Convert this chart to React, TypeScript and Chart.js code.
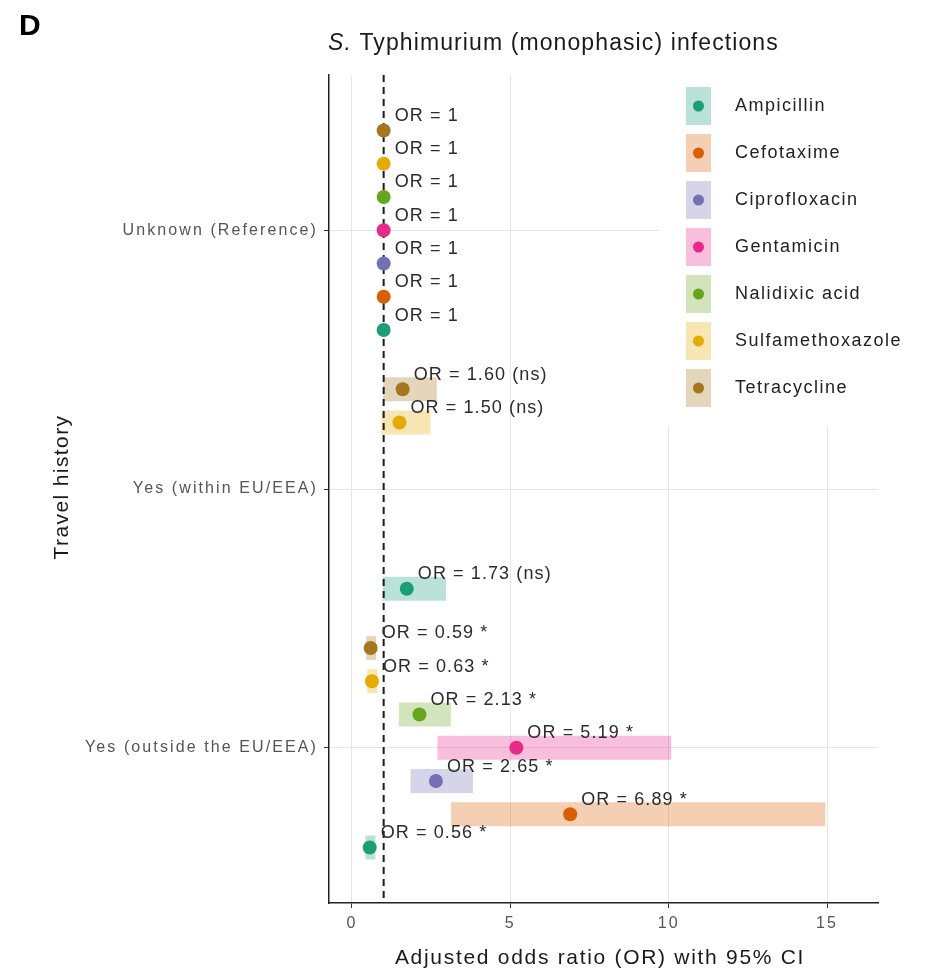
import React, { useEffect, useRef } from 'react';
import { Chart, registerables } from 'chart.js';

Chart.register(...registerables);

// Travel-history categories (y axis, top to bottom)
const TRAVEL_GROUPS = ['Unknown (Reference)', 'Yes (within EU/EEA)', 'Yes (outside the EU/EEA)'];

// Antimicrobials, legend order
const DRUGS = ['Ampicillin', 'Cefotaxime', 'Ciprofloxacin', 'Gentamicin', 'Nalidixic acid', 'Sulfamethoxazole', 'Tetracycline'];
const DRUG_COLORS = ['#1B9E77', '#D95F02', '#7570B3', '#E7298A', '#66A61E', '#E6AB02', '#A6761D'];

// Adjusted odds ratios per travel group, in DRUGS order (null = not estimated)
const OR_UNKNOWN = [1, 1, 1, 1, 1, 1, 1];
const OR_WITHIN_EU = [1.73, null, null, null, null, 1.5, 1.6];
const OR_OUTSIDE_EU = [0.56, 6.89, 2.65, 5.19, 2.13, 0.63, 0.59];

// 95% confidence intervals
const CI_LOW_WITHIN_EU = [0.97, null, null, null, null, 0.93, 0.98];
const CI_HIGH_WITHIN_EU = [2.97, null, null, null, null, 2.48, 2.68];
const CI_LOW_OUTSIDE_EU = [0.42, 3.13, 1.85, 2.7, 1.48, 0.48, 0.45];
const CI_HIGH_OUTSIDE_EU = [0.74, 14.95, 3.82, 10.08, 3.12, 0.8, 0.76];

const X_TICKS = [0, 5, 10, 15];
const REFERENCE_OR = 1;
const DODGE_WIDTH = 0.9;

const OR_BY_GROUP = [OR_UNKNOWN, OR_WITHIN_EU, OR_OUTSIDE_EU];
const CI_LOW_BY_GROUP: (number | null)[][] = [OR_UNKNOWN.map(() => null), CI_LOW_WITHIN_EU, CI_LOW_OUTSIDE_EU];
const CI_HIGH_BY_GROUP: (number | null)[][] = [OR_UNKNOWN.map(() => null), CI_HIGH_WITHIN_EU, CI_HIGH_OUTSIDE_EU];

const FONT = '"Liberation Sans", Arial, Helvetica, sans-serif';
const CI_ALPHA = 0.3;

function rgba(hex: string, a: number) {
  const n = parseInt(hex.slice(1), 16);
  return `rgba(${(n >> 16) & 255}, ${(n >> 8) & 255}, ${n & 255}, ${a})`;
}

// vertical position of a drug within its travel group (dodged, Ampicillin lowest)
function dodgedY(groupIdx: number, drugIdx: number) {
  const slot = DODGE_WIDTH / DRUGS.length;
  return groupIdx + 1 + ((DRUGS.length - 1) / 2 - drugIdx) * slot;
}

function orLabel(groupIdx: number, drugIdx: number) {
  const or = OR_BY_GROUP[groupIdx][drugIdx] as number;
  if (groupIdx === 0) return `OR = ${or}`;
  const lo = CI_LOW_BY_GROUP[groupIdx][drugIdx] as number;
  const hi = CI_HIGH_BY_GROUP[groupIdx][drugIdx] as number;
  const sig = lo > REFERENCE_OR || hi < REFERENCE_OR ? '*' : '(ns)';
  return `OR = ${or.toFixed(2)} ${sig}`;
}

function buildDatasets() {
  const sets: any[] = [];
  DRUGS.forEach((drug, d) => {
    OR_BY_GROUP.forEach((_, g) => {
      const lo = CI_LOW_BY_GROUP[g][d];
      const hi = CI_HIGH_BY_GROUP[g][d];
      if (lo == null || hi == null) return;
      const y = dodgedY(g, d);
      sets.push({
        type: 'line',
        label: `${drug} CI`,
        data: [{ x: lo, y }, { x: hi, y }],
        borderColor: rgba(DRUG_COLORS[d], CI_ALPHA),
        borderWidth: 24,
        borderCapStyle: 'butt',
        pointRadius: 0,
        fill: false,
        order: 3,
      });
    });
  });
  sets.push({
    type: 'line',
    label: 'reference',
    data: [{ x: REFERENCE_OR, y: 0.4 }, { x: REFERENCE_OR, y: 3.6 }],
    borderColor: '#1a1a1a',
    borderWidth: 2,
    borderDash: [7, 5],
    pointRadius: 0,
    fill: false,
    order: 2,
  });
  DRUGS.forEach((drug, d) => {
    const pts: { x: number; y: number }[] = [];
    OR_BY_GROUP.forEach((arr, g) => {
      const v = arr[d];
      if (v != null) pts.push({ x: v, y: dodgedY(g, d) });
    });
    sets.push({
      type: 'scatter',
      label: drug,
      data: pts,
      backgroundColor: DRUG_COLORS[d],
      borderColor: DRUG_COLORS[d],
      borderWidth: 0,
      pointRadius: 7,
      order: 1,
    });
  });
  return sets;
}

function spacedText(ctx: CanvasRenderingContext2D, text: string, x: number, y: number, font: string, spacing: number, color: string, align: CanvasTextAlign = 'left', baseline: CanvasTextBaseline = 'alphabetic') {
  ctx.save();
  ctx.font = font;
  (ctx as any).letterSpacing = `${spacing}px`;
  ctx.fillStyle = color;
  ctx.textAlign = align;
  ctx.textBaseline = baseline;
  ctx.fillText(text, x, y);
  ctx.restore();
}

const textPlugin = {
  id: 'orTexts',
  beforeDraw(chart: any) {
    (chart.ctx as any).letterSpacing = '2.1px';
  },
  afterDatasetsDraw(chart: any) {
    const { ctx, scales } = chart;
    OR_BY_GROUP.forEach((arr, g) => {
      arr.forEach((v, d) => {
        if (v == null) return;
        const px = scales.x.getPixelForValue(v);
        const py = scales.y.getPixelForValue(dodgedY(g, d));
        spacedText(ctx, orLabel(g, d), px + 11, py - 9.5, `18px ${FONT}`, 1.1, '#2b2b2b');
      });
    });
  },
  afterDraw(chart: any) {
    const ctx: CanvasRenderingContext2D = chart.ctx;

    // legend panel
    ctx.save();
    ctx.fillStyle = '#ffffff';
    ctx.fillRect(659, 75, 269, 351);
    ctx.restore();
    DRUGS.forEach((drug, d) => {
      const cy = 106 + d * 47;
      ctx.save();
      ctx.fillStyle = rgba(DRUG_COLORS[d], CI_ALPHA);
      ctx.fillRect(686, cy - 19, 25, 38);
      ctx.fillStyle = DRUG_COLORS[d];
      ctx.beginPath();
      ctx.arc(698.5, cy, 5.5, 0, Math.PI * 2);
      ctx.fill();
      ctx.restore();
      spacedText(ctx, drug, 735, cy, `18px ${FONT}`, 1.5, '#222', 'left', 'middle');
    });

    // panel letter
    spacedText(ctx, 'D', 19, 35, `bold 30px ${FONT}`, 0, '#000');

    // plot title, species name in italics
    ctx.save();
    ctx.font = `italic 23px ${FONT}`;
    (ctx as any).letterSpacing = '1.1px';
    const wS = ctx.measureText('S.').width;
    ctx.restore();
    spacedText(ctx, 'S.', 328, 50, `italic 23px ${FONT}`, 1.1, '#1a1a1a');
    spacedText(ctx, ' Typhimurium (monophasic) infections', 328 + wS, 50, `23px ${FONT}`, 1.1, '#1a1a1a');

    // axis titles
    spacedText(ctx, 'Adjusted odds ratio (OR) with 95% CI', 600, 964, `21px ${FONT}`, 1.7, '#1a1a1a', 'center');
    ctx.save();
    ctx.translate(62, 487);
    ctx.rotate(-Math.PI / 2);
    spacedText(ctx, 'Travel history', 0, 0, `21px ${FONT}`, 1.4, '#1a1a1a', 'center', 'middle');
    ctx.restore();
  },
};

export default function App() {
  const canvasRef = useRef<HTMLCanvasElement>(null);

  useEffect(() => {
    Chart.defaults.font.family = FONT;
    const chart = new Chart(canvasRef.current as HTMLCanvasElement, {
      type: 'scatter',
      data: { datasets: buildDatasets() },
      options: {
        animation: false,
        responsive: false,
        devicePixelRatio: 1,
        layout: { padding: { left: 0, right: 50, top: 75, bottom: 0 } },
        plugins: { legend: { display: false }, tooltip: { enabled: false } },
        scales: {
          x: {
            type: 'linear',
            min: -0.726,
            max: 16.61,
            afterBuildTicks: (s: any) => {
              s.ticks = X_TICKS.map((v) => ({ value: v }));
            },
            afterFit: (s: any) => {
              s.height = 68;
            },
            grid: { color: '#e6e6e6', lineWidth: 1, tickColor: '#333', tickLength: 5, tickWidth: 1 },
            border: { display: true, color: '#222', width: 1.5 },
            ticks: { color: '#555', font: { size: 16 }, padding: 6, autoSkip: false, callback: (v: any) => String(v) },
          },
          y: {
            type: 'linear',
            reverse: true,
            min: 0.4,
            max: 3.6,
            afterBuildTicks: (s: any) => {
              s.ticks = TRAVEL_GROUPS.map((_, i) => ({ value: i + 1 }));
            },
            afterFit: (s: any) => {
              s.width = 329;
            },
            grid: { color: '#e6e6e6', lineWidth: 1, tickColor: '#333', tickLength: 5, tickWidth: 1 },
            border: { display: true, color: '#222', width: 1.5 },
            ticks: {
              color: '#555',
              font: { size: 16 },
              padding: 6,
              autoSkip: false,
              callback: (v: any) => TRAVEL_GROUPS[Math.round(v) - 1] ?? '',
            },
          },
        },
      } as any,
      plugins: [textPlugin],
    });
    return () => chart.destroy();
  }, []);

  return (
    <div style={{ position: 'fixed', left: 0, top: 0, width: 928, height: 971, background: '#ffffff' }}>
      <canvas ref={canvasRef} width={928} height={971} style={{ width: 928, height: 971, display: 'block' }} />
    </div>
  );
}
